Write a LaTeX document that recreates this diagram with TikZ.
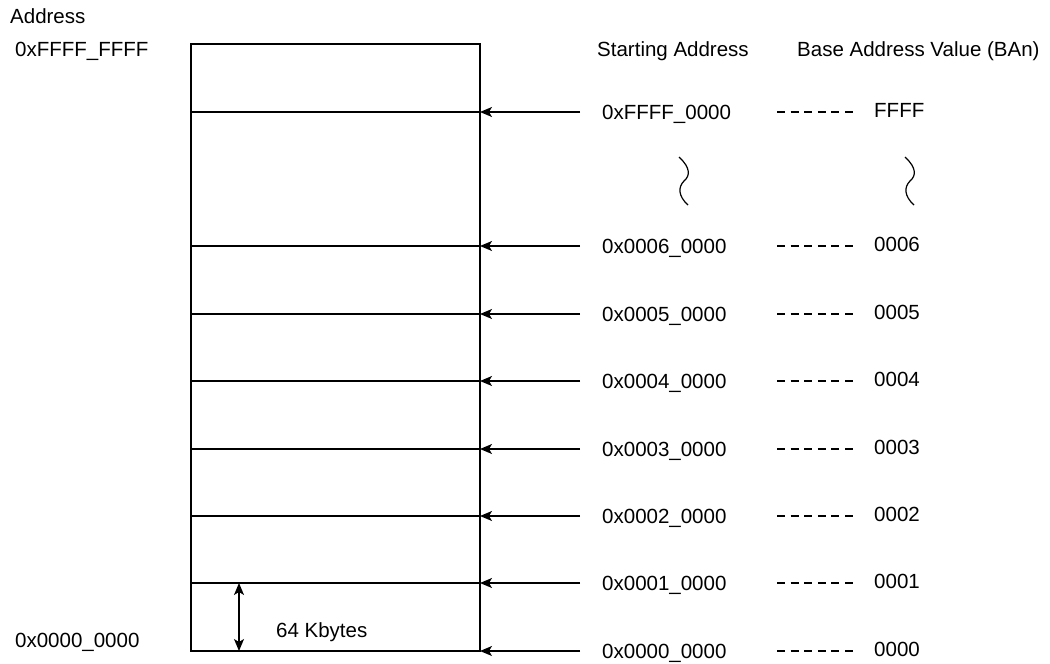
\documentclass[tikz,border=0pt]{standalone}
\usepackage{fontspec}
\setmainfont{Liberation Sans}
\usetikzlibrary{arrows.meta}
\begin{document}
\begin{tikzpicture}[x=1pt,y=-1pt,
  lbl/.style={inner sep=0pt,anchor=base west,font=\fontsize{20.5}{24}\selectfont},
  boxline/.style={line width=2pt},
  ptr/.style={line width=1.3pt,-{Stealth[length=12pt,width=10pt,inset=3pt]}},
  dsh/.style={line width=1.3pt,dash pattern=on 8pt off 5.6pt},
  wave/.style={line width=1.2pt}]
\useasboundingbox (0,0) rectangle (1050,664);
% left labels
\node[lbl] (addr) at (10,23) {Address};
\node[lbl] (top) at (15,56) {0xFFFF\_FFFF};
\node[lbl] (bot) at (15,647) {0x0000\_0000};
% headers
\node[lbl] (hs) at (597,56) {Starting Address};
\node[lbl] (hb) at (797,56) {Base Address Value (BAn)};
% box
\draw[boxline] (191,44) rectangle (480,651);
\foreach \n/\y in {f/112,6/246,5/314,4/381,3/449,2/516,1/583}{
  \coordinate (l\n) at (191,\y);
  \coordinate (r\n) at (480,\y);
  \draw[boxline] (l\n) -- (r\n);
}
\coordinate (r0) at (480,651);
% pointers and labels
\foreach \n/\y/\s/\v in {f/112/0xFFFF\_0000/FFFF,6/246/0x0006\_0000/0006,5/314/0x0005\_0000/0005,4/381/0x0004\_0000/0004,3/449/0x0003\_0000/0003,2/516/0x0002\_0000/0002,1/583/0x0001\_0000/0001,0/651/0x0000\_0000/0000}{
  \coordinate (a\n) at (580,\y);
  \draw[ptr] (a\n) -- (r\n);
  \node[lbl] (s\n) at (602,\y+7.5) {\s};
  \coordinate (d\n) at (777,\y);
  \coordinate (e\n) at (853,\y);
  \draw[dsh] (d\n) -- (e\n);
  \node[lbl] (v\n) at (874,\y+5.5) {\v};
}
% wavy break marks
\draw[wave] (679,157) .. controls (691,168) and (690,176) .. (684,181) .. controls (678,187) and (678,196) .. (688,205);
\draw[wave] (905,157) .. controls (917,168) and (916,176) .. (910,181) .. controls (904,187) and (904,196) .. (914,205);
% 64 Kbytes
\coordinate (k1) at (239,583);
\coordinate (k2) at (239,651);
\draw[line width=1.3pt,{Stealth[length=12pt,width=10pt,inset=3pt]}-{Stealth[length=12pt,width=10pt,inset=3pt]}] (k1) -- (k2);
\node[lbl] (kb) at (276,637) {64 Kbytes};
\end{tikzpicture}
\end{document}
